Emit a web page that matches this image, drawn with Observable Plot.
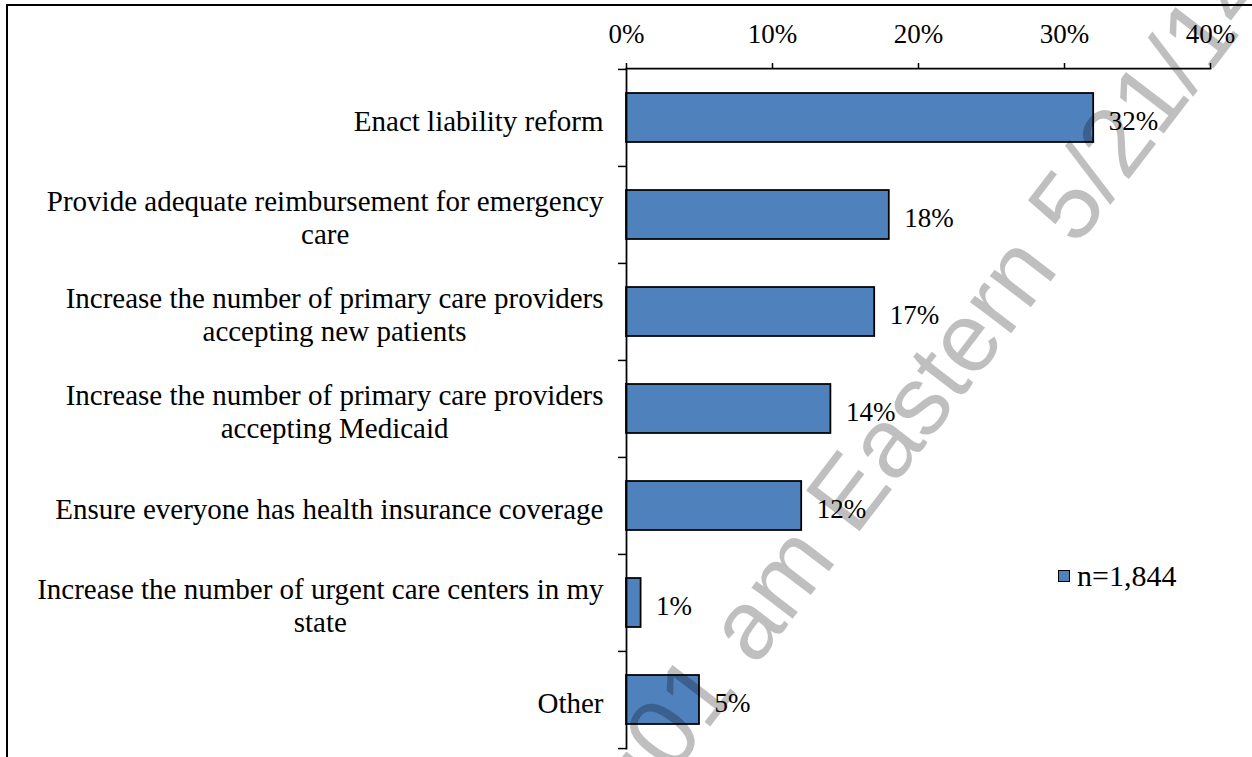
<!DOCTYPE html>
<html><head><meta charset="utf-8">
<script src="https://cdn.jsdelivr.net/npm/d3@7"></script>
<script src="https://cdn.jsdelivr.net/npm/@observablehq/plot@0.6"></script>
<style>
html,body{margin:0;padding:0;background:#fff;}
#wrap{position:relative;width:1252px;height:757px;overflow:hidden;}
#chart{position:absolute;left:0;top:0;}
#border{position:absolute;left:6px;top:4px;width:1300px;height:800px;border-top:2px solid #000;border-left:2px solid #000;}
#legend{position:absolute;left:1058px;top:559px;font-family:'Liberation Serif';font-size:30px;line-height:34px;display:flex;align-items:center;color:#000;}
#legend .sw{display:inline-block;width:10px;height:10px;background:#4f81bd;border:1.5px solid #000;margin-right:7px;}
#wm{position:absolute;left:0;top:0;pointer-events:none;}
</style></head><body>
<div id="wrap"><div id="chart"></div><div id="border"></div>
<div id="legend"><span class="sw"></span><span id="legtext"></span></div>
<svg id="wm" width="1252" height="757"></svg></div>
<script>
const categories = [
  "Enact liability reform",
  "Provide adequate reimbursement for emergency\ncare",
  "Increase the number of primary care providers\naccepting new patients",
  "Increase the number of primary care providers\naccepting Medicaid",
  "Ensure everyone has health insurance coverage",
  "Increase the number of urgent care centers in my\nstate",
  "Other"
];
const values = [32, 18, 17, 14, 12, 1, 5];
const xTicks = [0, 10, 20, 30, 40];
const legendLabel = "n=1,844";
const watermarkText = "12:01 am Eastern 5/21/14";

const W = 1252, H = 757, mt = 68, mb = 9, ml = 626, mr = 42;
const step = (H - mt - mb) / categories.length;
const data = categories.map((c, i) => ({cat: c, value: values[i]}));

const ctx = document.createElement("canvas").getContext("2d");
ctx.font = "29px 'Liberation Serif'";

const labelMarks = data.map(d => {
  const lines = d.cat.split("\n");
  const multi = lines.length > 1;
  const w1 = ctx.measureText(lines[0]).width;
  return Plot.text([d], {
    x: () => 0, y: "cat", text: "cat",
    textAnchor: multi ? "middle" : "end",
    dx: multi ? -(23 + w1 / 2) : -23, dy: 2,
    fontSize: 29, lineHeight: 1.15, fontFamily: "Liberation Serif", fill: "black"
  });
});

const chart = Plot.plot({
  width: W, height: H,
  marginTop: mt, marginBottom: mb, marginLeft: ml, marginRight: mr,
  style: {fontFamily: "'Liberation Serif'", fontSize: "27px", color: "black", background: "none"},
  x: {domain: [0, 40]},
  y: {domain: categories, paddingInner: 0.5, paddingOuter: 0.25},
  marks: [
    Plot.barX(data, {x: "value", y: "cat", fill: "#4f81bd", stroke: "black", strokeWidth: 1.75}),
    Plot.frame({anchor: "top", stroke: "black", strokeWidth: 1.75}),
    Plot.frame({anchor: "left", stroke: "black", strokeWidth: 1.75}),
    Plot.axisX({anchor: "top", ticks: xTicks, tickFormat: d => d + "%", tickSize: 6, tickPadding: 20, fontSize: 27, label: null, strokeWidth: 1.5}),
    Plot.axisY({anchor: "left", ticks: categories, tickSize: 8, tickFormat: () => "", dy: -step / 2, label: null, strokeWidth: 1.5}),
    Plot.axisY({anchor: "left", ticks: [categories[categories.length - 1]], tickSize: 8, tickFormat: () => "", dy: step / 2, label: null, strokeWidth: 1.5}),
    Plot.text(data, {x: "value", y: "cat", text: d => d.value + "%", textAnchor: "start", dx: 15, dy: 3, fontSize: 27, fill: "black"}),
    ...labelMarks
  ]
});
document.getElementById("chart").appendChild(chart);
document.getElementById("legtext").textContent = legendLabel;

const wm = d3.select("#wm");
wm.append("text")
  .attr("transform", "translate(590,884) rotate(-52.6)")
  .attr("font-family", "'Liberation Sans'")
  .attr("font-size", 98)
  .attr("fill", "#000")
  .attr("fill-opacity", 0.25)
  .text(watermarkText);
</script>
</body></html>
